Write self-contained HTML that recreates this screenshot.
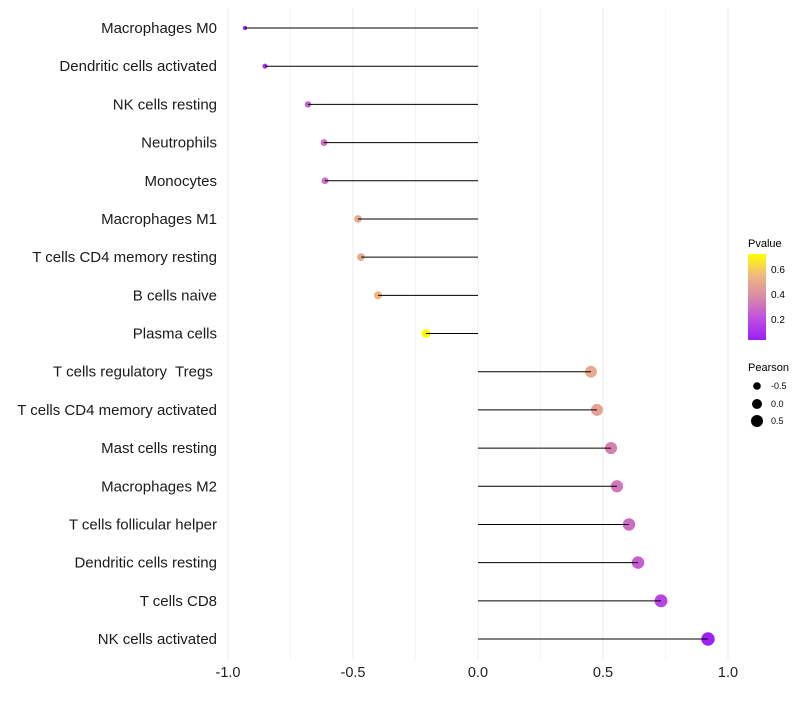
<!DOCTYPE html>
<html><head><meta charset="utf-8"><style>
body{margin:0;background:#fff;font-family:"Liberation Sans",sans-serif}
text{white-space:pre}
</style></head><body>
<svg id="chart" width="800" height="700" xmlns="http://www.w3.org/2000/svg">
<defs><linearGradient id="pg" x1="0" y1="1" x2="0" y2="0">
<stop offset="0" stop-color="#9b1ff5"/><stop offset="0.25" stop-color="#bf4fe0"/>
<stop offset="0.5" stop-color="#d98aa8"/><stop offset="0.75" stop-color="#f0b880"/><stop offset="1" stop-color="#ffff00"/>
</linearGradient></defs>
<g id="grid"></g><g id="marks"></g><g id="axes"></g>
<g font-size="10">
<text x="748" y="247" font-size="11">Pvalue</text>
<rect x="748" y="254" width="18" height="86" fill="url(#pg)"/>
<text x="771" y="273">0.6</text><text x="771" y="298">0.4</text><text x="771" y="323">0.2</text>
</g>
<g font-size="9">
<text x="748" y="371" font-size="11">Pearson</text>
<circle cx="757" cy="386" r="3.8"/><text x="771" y="389">-0.5</text>
<circle cx="757" cy="404" r="5"/><text x="771" y="407">0.0</text>
<circle cx="757" cy="421" r="6"/><text x="771" y="424">0.5</text>
</g>
</svg>
<script>
const categories=["Macrophages M0","Dendritic cells activated","NK cells resting","Neutrophils","Monocytes","Macrophages M1","T cells CD4 memory resting","B cells naive","Plasma cells","T cells regulatory  Tregs ","T cells CD4 memory activated","Mast cells resting","Macrophages M2","T cells follicular helper","Dendritic cells resting","T cells CD8","NK cells activated"];
const pearson=[-0.932,-0.852,-0.68,-0.616,-0.612,-0.48,-0.468,-0.4,-0.208,0.452,0.476,0.532,0.556,0.604,0.64,0.732,0.92];
const pvalue=[0.05,0.1,0.25,0.3,0.3,0.5,0.5,0.55,0.72,0.5,0.47,0.36,0.33,0.3,0.26,0.18,0.05];
const xTicks=[-1,-0.5,0,0.5,1];
const xTickLabels=["-1.0","-0.5","0.0","0.5","1.0"];
</script>
<script>
const NS="http://www.w3.org/2000/svg";
const x=v=>478+v*250;
const n=categories.length;
const y=i=>28+i*(639-28)/(n-1);
function mk(t,a,p){const e=document.createElementNS(NS,t);for(const k in a)e.setAttribute(k,a[k]);p.appendChild(e);return e;}
function col(p){const t=Math.max(0,Math.min(1,(p-0.04)/(0.73-0.04)));
const st=[[0,[155,31,245]],[0.25,[191,79,224]],[0.5,[217,138,168]],[0.75,[240,184,128]],[1,[255,255,0]]];
for(let i=0;i<st.length-1;i++){if(t<=st[i+1][0]){const f=(t-st[i][0])/(st[i+1][0]-st[i][0]);const c=st[i][1].map((v,j)=>Math.round(v+(st[i+1][1][j]-v)*f));return `rgb(${c})`;}}return "rgb(255,255,0)";}
const grid=document.getElementById('grid'),marks=document.getElementById('marks'),axes=document.getElementById('axes');
for(let v=-1;v<=1.001;v+=0.25){const g=mk('line',{x1:x(v),x2:x(v),y1:8,y2:660,stroke:Math.abs(v*2-Math.round(v*2))<1e-6?'#ebebeb':'#f5f5f5','stroke-width':1},grid);

}
xTicks.forEach((v,i)=>{const t=mk('text',{x:x(v),y:677,'text-anchor':'middle','font-size':14.5,fill:'#222'},axes);t.textContent=xTickLabels[i];

});
categories.forEach((c,i)=>{
const t=mk('text',{x:217,y:y(i)+5,'text-anchor':'end','font-size':15,fill:'#1a1a1a'},axes);t.textContent=c;


const r=Math.sqrt(Math.max(1,25+22*pearson[i]));
const d=mk('circle',{cx:x(pearson[i]),cy:y(i),r:r,fill:col(pvalue[i])},marks);


const l=mk('line',{x1:x(0),x2:x(pearson[i]),y1:y(i),y2:y(i),stroke:'#000','stroke-width':1},marks);


});
</script>
</body></html>
